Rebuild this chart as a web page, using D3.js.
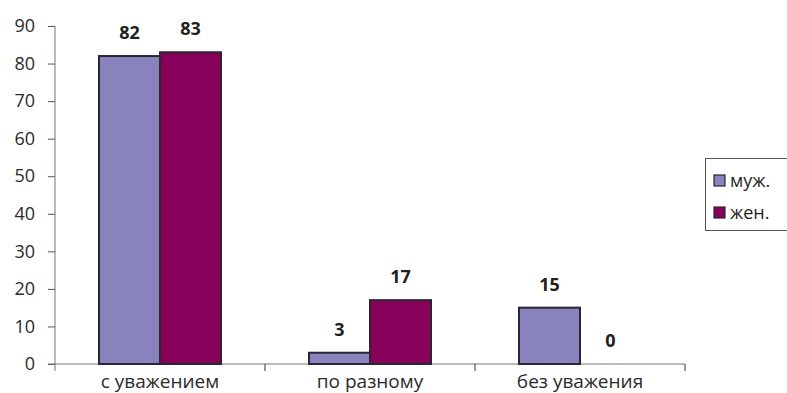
<!DOCTYPE html>
<html>
<head>
<meta charset="utf-8">
<script src="https://cdn.jsdelivr.net/npm/d3@7"></script>
<style>
  body { margin: 0; background: #fff; }
  svg { display: block; }
  svg text { font-family: "Open Sans", "Noto Sans", sans-serif; }
</style>
</head>
<body>
<div id="chart"></div>
<script>
// categories, series and values
var categories = ["с уважением", "по разному", "без уважения"];
var series = ["муж.", "жен."];
var male = [82, 3, 15];
var female = [83, 17, 0];
var yTicks = [0, 10, 20, 30, 40, 50, 60, 70, 80, 90];
var colors = ["#8883bd", "#87005a"];

var width = 787, height = 393;
var margin = {top: 26, left: 55, bottom: 29};
var plotRight = 685;

var svg = d3.select("#chart").append("svg")
    .attr("width", width)
    .attr("height", height);

var rows = categories.map(function(c, i) {
  return {cat: c, values: [male[i], female[i]]};
});

var x0 = d3.scaleBand().domain(categories).range([margin.left, plotRight]);
var groupW = 122;
var x1 = d3.scaleBand().domain(series)
    .range([(x0.bandwidth() - groupW) / 2, (x0.bandwidth() + groupW) / 2]);
var y = d3.scaleLinear().domain([0, 90]).range([height - margin.bottom, margin.top]);

// y axis
var yAxis = svg.append("g")
    .attr("transform", "translate(" + margin.left + ",0)")
    .call(d3.axisLeft(y).tickValues(yTicks).tickSize(7).tickPadding(13));
yAxis.attr("font-family", null);
yAxis.select(".domain").attr("stroke", "#777").attr("d", "M0," + y(90) + "V" + (y(0) + 7));
yAxis.selectAll(".tick line").attr("stroke", "#555");
yAxis.selectAll(".tick text").attr("fill", "#2a2a2a").style("font-size", "18px");

// x axis line + category boundary ticks
svg.append("line")
    .attr("x1", margin.left - 7).attr("x2", plotRight)
    .attr("y1", y(0)).attr("y2", y(0))
    .attr("stroke", "#777");
var bounds = categories.slice(1).map(function(c) { return x0(c); }).concat([plotRight]);
svg.selectAll(".xtick").data(bounds).enter().append("line")
    .attr("x1", function(d) { return d; }).attr("x2", function(d) { return d; })
    .attr("y1", y(0)).attr("y2", y(0) + 7)
    .attr("stroke", "#333");

var xAxis = svg.append("g")
    .attr("transform", "translate(0," + y(0) + ")")
    .call(d3.axisBottom(x0).tickSize(0).tickPadding(11));
xAxis.attr("font-family", null);
xAxis.select(".domain").remove();
xAxis.selectAll(".tick text").attr("fill", "#2a2a2a").style("font-size", "19px");

// bars
var groups = svg.selectAll(".grp").data(rows).enter().append("g")
    .attr("transform", function(d) { return "translate(" + x0(d.cat) + ",0)"; });

groups.selectAll("rect")
    .data(function(d) { return d.values.map(function(v, i) { return {s: series[i], v: v, i: i}; }); })
    .enter().filter(function(d) { return d.v > 0; })
    .append("rect")
    .attr("x", function(d) { return x1(d.s); })
    .attr("width", x1.bandwidth())
    .attr("y", function(d) { return y(d.v); })
    .attr("height", function(d) { return y(0) - y(d.v); })
    .attr("fill", function(d) { return colors[d.i]; })
    .attr("stroke", "#2b2533")
    .attr("stroke-width", 2);

groups.selectAll("text.val")
    .data(function(d) { return d.values.map(function(v, i) { return {s: series[i], v: v}; }); })
    .enter().append("text")
    .attr("class", "val")
    .attr("x", function(d) { return x1(d.s) + x1.bandwidth() / 2; })
    .attr("y", function(d) { return y(d.v) - 17; })
    .attr("text-anchor", "middle")
    .attr("fill", "#231f20")
    .style("font-size", "18px")
    .style("font-weight", "bold")
    .text(function(d) { return d.v; });

// legend
var legend = svg.append("g").attr("transform", "translate(705,158)");
legend.append("rect")
    .attr("x", 0.5).attr("y", 0.5)
    .attr("width", 100).attr("height", 72)
    .attr("fill", "#fff").attr("stroke", "#555");
series.forEach(function(s, i) {
  var ly = 23 + i * 32;
  legend.append("rect")
      .attr("x", 9).attr("y", ly - 6)
      .attr("width", 11).attr("height", 11)
      .attr("fill", colors[i]).attr("stroke", "#2b2533").attr("stroke-width", 1.2);
  legend.append("text")
      .attr("x", 25).attr("y", ly + 6)
      .attr("fill", "#231f20")
      .style("font-size", "18px")
      .text(s);
});
</script>
</body>
</html>
